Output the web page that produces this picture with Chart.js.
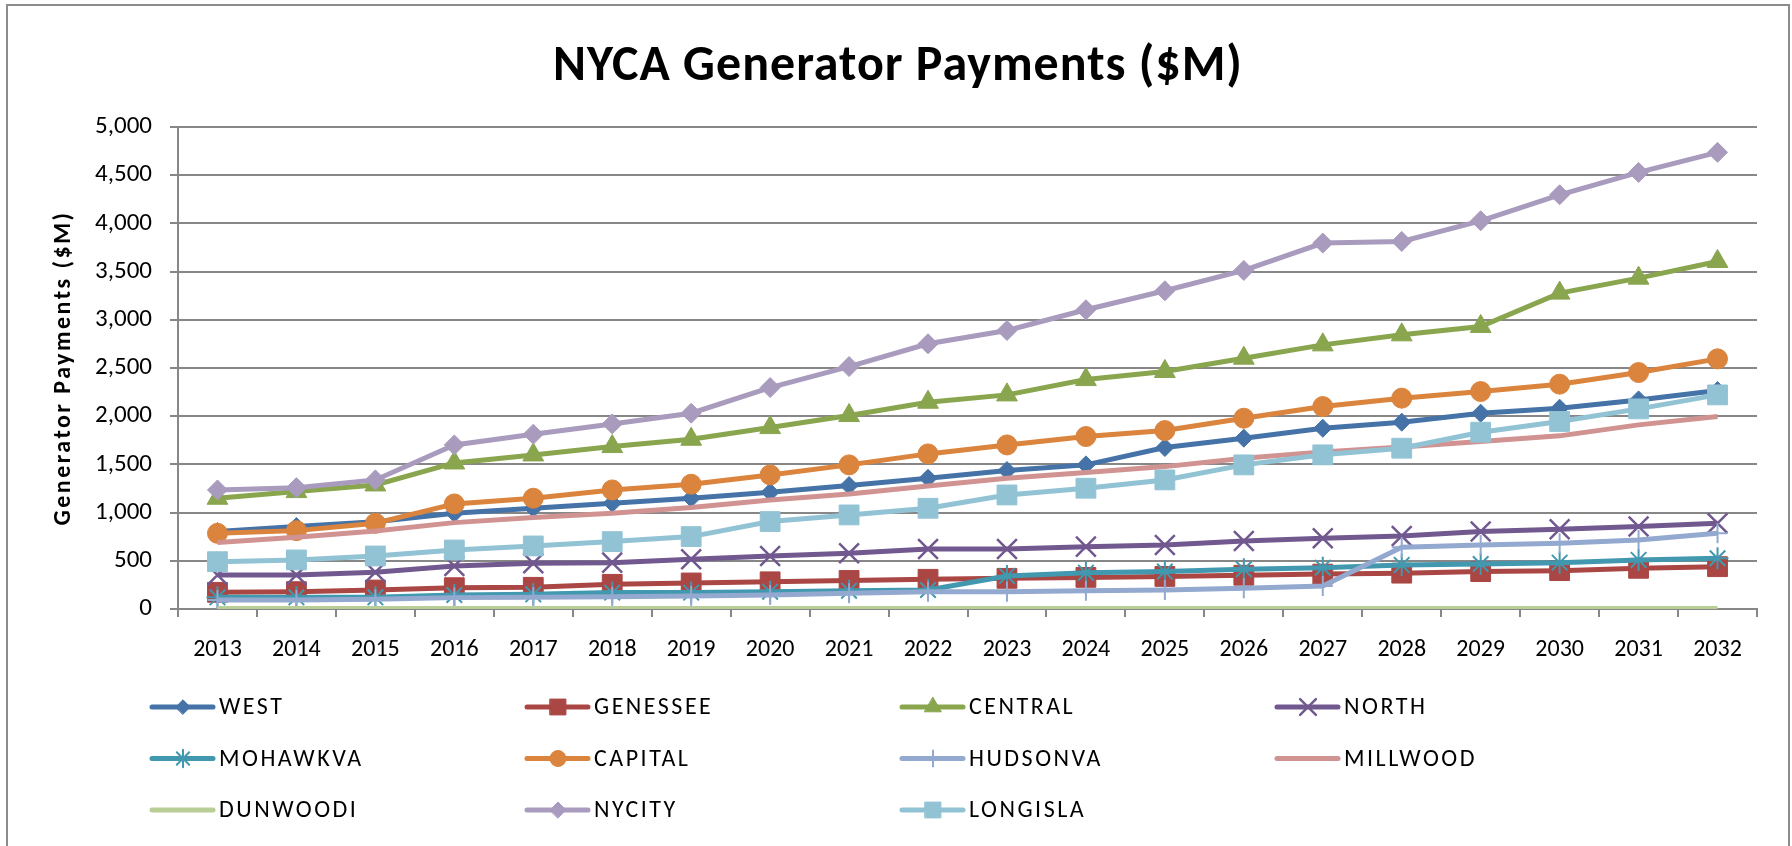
<!DOCTYPE html>
<html>
<head>
<meta charset="utf-8">
<script src="https://cdn.jsdelivr.net/npm/chart.js@4.4.1/dist/chart.umd.min.js"></script>
<style>
  html, body { margin: 0; padding: 0; background: #fff; }
</style>
</head>
<body>
<canvas id="myChart" width="1792" height="846"></canvas>
<script>
const years = ["2013", "2014", "2015", "2016", "2017", "2018", "2019", "2020", "2021", "2022",
  "2023", "2024", "2025", "2026", "2027", "2028", "2029", "2030", "2031", "2032"];

const west = [803, 855, 906, 993, 1045, 1097, 1149, 1211, 1280, 1356, 1436, 1495, 1675, 1772, 1875, 1938, 2031, 2083, 2169, 2266];
const genessee = [173, 180, 197, 221, 225, 256, 270, 282, 296, 308, 318, 328, 338, 350, 362, 372, 388, 398, 422, 439];
const central = [1149, 1218, 1287, 1515, 1598, 1685, 1761, 1882, 2007, 2145, 2221, 2380, 2464, 2602, 2740, 2844, 2931, 3277, 3432, 3605];
const north = [353, 353, 381, 446, 474, 481, 516, 550, 578, 623, 623, 647, 664, 706, 734, 758, 803, 827, 855, 889];
const mohawkva = [121, 121, 121, 145, 152, 170, 170, 180, 190, 197, 343, 377, 388, 412, 429, 457, 467, 481, 509, 526];
const capital = [785, 813, 889, 1090, 1149, 1235, 1294, 1391, 1495, 1609, 1702, 1789, 1851, 1979, 2100, 2187, 2256, 2332, 2453, 2595];
const hudsonva = [93, 93, 100, 118, 121, 128, 135, 145, 163, 180, 180, 190, 197, 215, 239, 640, 664, 682, 716, 785];
const millwood = [689, 744, 810, 896, 948, 993, 1052, 1131, 1194, 1277, 1356, 1415, 1477, 1564, 1630, 1680, 1737, 1796, 1910, 1996];
const dunwoodi = [5, 5, 5, 5, 5, 5, 5, 5, 5, 5, 5, 5, 5, 5, 5, 5, 5, 5, 5, 5];
const nycity = [1235, 1259, 1339, 1702, 1813, 1920, 2031, 2297, 2515, 2751, 2889, 3104, 3301, 3512, 3796, 3813, 4027, 4297, 4529, 4737];
const longisla = [491, 509, 550, 612, 654, 699, 751, 907, 976, 1045, 1183, 1253, 1339, 1495, 1599, 1668, 1834, 1945, 2076, 2221];

const yTicks = [0, 500, 1000, 1500, 2000, 2500, 3000, 3500, 4000, 4500, 5000];

const chartTitle = "NYCA Generator Payments ($M)";
const yTitle = "Generator Payments ($M)";

const FONT = "Carlito, Lato, sans-serif";
const GRID = "#878787";

// label, data, colour, marker style, marker radius, marker stroke width
const series = [
  ["WEST", west, "#4572A7", "rectRot", 9, 1],
  ["GENESSEE", genessee, "#AA4643", "rect", 14, 1],
  ["CENTRAL", central, "#89A54E", "triangle", 12, 1],
  ["NORTH", north, "#71588F", "crossRot", 14, 2.5],
  ["MOHAWKVA", mohawkva, "#4198AF", "star", 11, 2],
  ["CAPITAL", capital, "#DB843D", "circle", 10, 1],
  ["HUDSONVA", hudsonva, "#93A9CF", "cross", 10, 2],
  ["MILLWOOD", millwood, "#D19392", "circle", 0, 0],
  ["DUNWOODI", dunwoodi, "#B9CD96", "circle", 0, 0],
  ["NYCITY", nycity, "#A99BBD", "rectRot", 10, 1],
  ["LONGISLA", longisla, "#92C3D4", "rect", 14, 1],
];

const datasets = series.map(([label, data, color, style, r, bw], i) => ({
  label: label,
  data: data,
  borderColor: color,
  backgroundColor: color,
  pointBorderColor: color,
  pointBackgroundColor: color,
  pointStyle: style,
  pointRadius: r,
  pointHoverRadius: r,
  pointBorderWidth: bw,
  borderWidth: 5,
  tension: 0,
  order: series.length - i,
}));

const framePlugin = {
  id: "frame",
  beforeDraw(chart) {
    const ctx = chart.ctx;
    ctx.save();
    ctx.fillStyle = "#fff";
    ctx.fillRect(0, 0, chart.width, chart.height);
    ctx.strokeStyle = "#8c8c8c";
    ctx.lineWidth = 2;
    ctx.strokeRect(7, 5, 1782, 900);
    ctx.restore();
  },
  afterDraw(chart) {
    const ctx = chart.ctx;
    // chart title
    ctx.save();
    ctx.fillStyle = "#000";
    ctx.font = "bold 50px " + FONT;
    ctx.letterSpacing = "1px";
    ctx.textAlign = "center";
    ctx.textBaseline = "middle";
    ctx.fillText(chartTitle, 898, 67);
    ctx.restore();
    // y axis title
    const a = chart.chartArea;
    ctx.save();
    ctx.translate(64, (a.top + a.bottom) / 2);
    ctx.rotate(-Math.PI / 2);
    ctx.fillStyle = "#000";
    ctx.font = "bold 24px " + FONT;
    ctx.letterSpacing = "2.5px";
    ctx.textAlign = "center";
    ctx.textBaseline = "middle";
    ctx.fillText(yTitle, 0, 0);
    ctx.restore();
  },
};

const legendPlugin = {
  id: "gridLegend",
  afterDraw(chart) {
    const ctx = chart.ctx;
    chart.data.datasets.forEach((ds, i) => {
      const col = i % 4, row = Math.floor(i / 4);
      const x = 152 + col * 375;
      const y = 707 + row * 51.5;
      ctx.save();
      ctx.strokeStyle = ds.borderColor;
      ctx.lineWidth = ds.borderWidth;
      ctx.lineCap = "round";
      ctx.beginPath();
      ctx.moveTo(x, y);
      ctx.lineTo(x + 61, y);
      ctx.stroke();
      if (ds.pointRadius > 0) {
        ctx.fillStyle = ds.pointBackgroundColor;
        ctx.strokeStyle = ds.pointBorderColor;
        ctx.lineWidth = ds.pointBorderWidth;
        Chart.helpers.drawPoint(ctx, {
          pointStyle: ds.pointStyle,
          radius: ds.pointRadius * 0.8,
          borderWidth: ds.pointBorderWidth,
          rotation: 0,
        }, x + 31, y);
      }
      ctx.fillStyle = "#000";
      ctx.font = "24px " + FONT;
      ctx.letterSpacing = "2.5px";
      ctx.textAlign = "left";
      ctx.textBaseline = "middle";
      ctx.fillText(ds.label, x + 67, y + 1);
      ctx.restore();
    });
  },
};

new Chart(document.getElementById("myChart").getContext("2d"), {
  type: "line",
  data: { labels: years, datasets: datasets },
  plugins: [framePlugin, legendPlugin],
  options: {
    responsive: false,
    animation: false,
    devicePixelRatio: 1,
    layout: { padding: { left: 40, right: 35, top: 127, bottom: 177 } },
    plugins: {
      legend: { display: false },
      tooltip: { enabled: false },
      title: { display: false },
    },
    scales: {
      x: {
        offset: true,
        afterFit: (scale) => { scale.height = 60; },
        grid: {
          display: true,
          offset: true,
          drawOnChartArea: false,
          drawTicks: true,
          tickLength: 8,
          color: GRID,
          lineWidth: 2,
        },
        border: { display: true, color: GRID, width: 2 },
        ticks: {
          color: "#000",
          font: { family: FONT, size: 24 },
          padding: 19,
          maxRotation: 0,
          autoSkip: false,
        },
      },
      y: {
        min: 0,
        max: 5000,
        afterFit: (scale) => { scale.width = 138; },
        afterBuildTicks: (scale) => { scale.ticks = yTicks.map((v) => ({ value: v })); },
        grid: { color: GRID, lineWidth: 2, tickLength: 8 },
        border: { display: true, color: GRID, width: 2 },
        ticks: {
          color: "#000",
          font: { family: FONT, size: 25 },
          padding: 18,
          callback: (v) => v.toLocaleString("en-US"),
        },
      },
    },
  },
});
</script>
</body>
</html>
